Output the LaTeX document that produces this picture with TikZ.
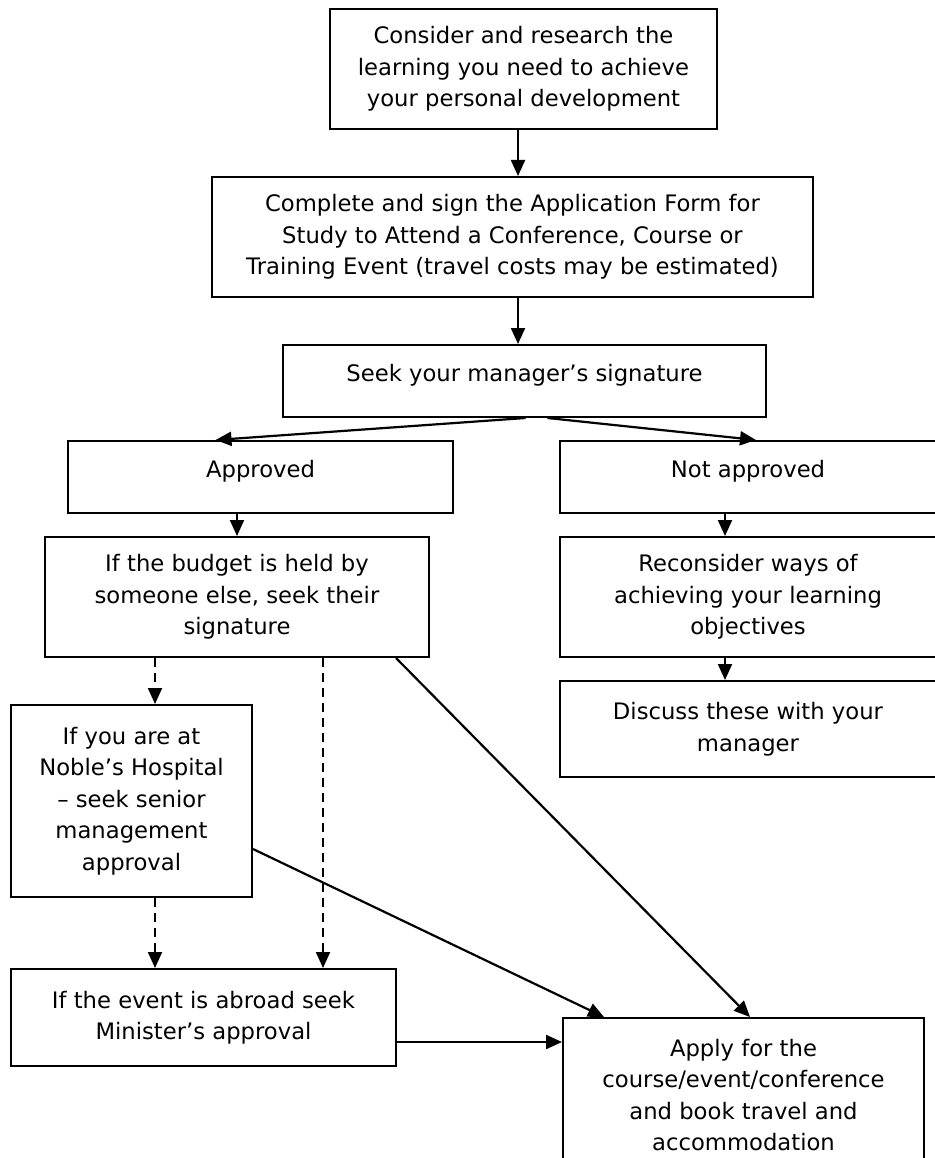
\documentclass[tikz,border=0pt]{standalone}
\usepackage{fontspec}
\setmainfont{DejaVu Sans}
\usepackage{tikz}
\usetikzlibrary{arrows.meta, calc, positioning}

\tikzset{
	box/.style={draw, line width=2pt, align=center, inner sep=0pt,
		font=\fontsize{22.7}{31.5}\selectfont},
	onebox/.style={box, text height=13pt, text depth=13pt},
	arr/.style={-{Triangle[length=16pt, width=14pt]}, line width=2.2pt},
	dasharr/.style={arr, dash pattern=on 9pt off 6pt}
}

\begin{document}
\begin{tikzpicture}[x=1pt, y=-1pt]
			\useasboundingbox (0,0) rectangle (934,1158);
			
			% Main column
			\node[box, minimum width=387, minimum height=120] (consider) at (523.5,69) {Consider and research the\\learning you need to achieve\\your personal development};
			\node[box, minimum width=601, minimum height=120] (complete) at (512.5,237) {Complete and sign the Application Form for\\Study to Attend a Conference, Course or\\Training Event (travel costs may be estimated)};
			\node[onebox, minimum width=483, minimum height=72] (seek) at (524.5,381) {Seek your manager’s signature};
			
			% Decision
			\node[onebox, minimum width=385, minimum height=72] (approved) at (260.5,477) {Approved};
			\node[onebox, minimum width=376, minimum height=72] (notapproved) at (748,477) {Not approved};
			
			% Approved branch
			\node[box, minimum width=384, minimum height=120] (budget) at (237,597) {If the budget is held by\\someone else, seek their\\signature};
			\node[box, minimum width=241, minimum height=192] (noble) at (131.5,801) {If you are at\\Noble’s Hospital\\– seek senior\\management\\approval};
			\node[box, minimum width=385, minimum height=97] (abroad) at (203.5,1017.5) {If the event is abroad seek\\Minister’s approval};
			\node[box, minimum width=361, minimum height=154] (apply) at (743.5,1095) {Apply for the\\course/event/conference\\and book travel and\\accommodation};
			
			% Not approved branch
			\node[box, minimum width=376, minimum height=120] (reconsider) at (748,597) {Reconsider ways of\\achieving your learning\\objectives};
			\node[box, minimum width=376, minimum height=96] (discuss) at (748,729) {Discuss these with your\\manager};
			
			% Guide lines for the connectors
			\coordinate (spine) at (518,0);
			\coordinate (rspine) at (725,0);
			\coordinate (lspine) at (155,0);
			\coordinate (mspine) at (323,0);
			\coordinate (hline) at (0,1042);
			
			% Connectors
			\draw[arr] (consider.south -| spine) -- (complete.north -| spine);
			\draw[arr] (complete.south -| spine) -- (seek.north -| spine);
			\draw[arr] ($(seek.south)+(1,0)$) -- ($(approved.north)+(-45,0)$);
			\draw[arr] ($(seek.south)+(23,0)$) -- ($(notapproved.north)+(8,0)$);
			\draw[arr] (approved.south -| budget.north) -- (budget.north);
			\draw[arr] (notapproved.south -| rspine) -- (reconsider.north -| rspine);
			\draw[arr] (reconsider.south -| rspine) -- (discuss.north -| rspine);
			
			% Dashed routes
			\draw[dasharr] (budget.south -| lspine) -- (noble.north -| lspine);
			\draw[dasharr] (noble.south -| lspine) -- (abroad.north -| lspine);
			\draw[dasharr] (budget.south -| mspine) -- (abroad.north -| mspine);
			
			% Routes to the application
			\draw[arr] ($(budget.south east)+(-34,0)$) -- ($(apply.north)+(6.5,0)$);
			\draw[arr] ($(noble.east)+(0,48)$) -- ($(apply.north)+(-139.5,0)$);
			\draw[arr] (abroad.east |- hline) -- (apply.west |- hline);
		\end{tikzpicture}
\end{document}
